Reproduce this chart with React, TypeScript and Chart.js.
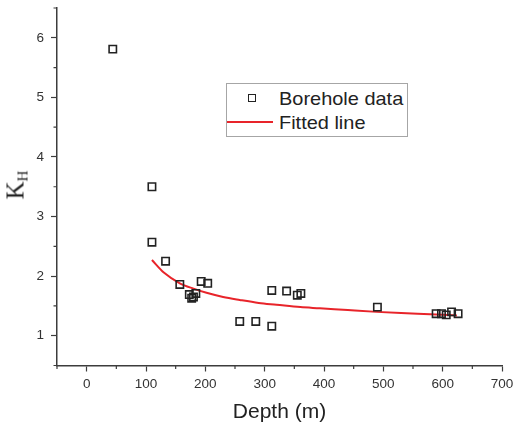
import React, { useEffect, useRef } from "react";
import { Chart, registerables } from "chart.js";

Chart.register(...registerables);

const depthM = [44, 110, 110, 133, 157, 173, 177, 180, 184, 193, 204, 258, 285, 312, 312, 337, 355, 361, 490, 589, 598, 606, 615, 626];
const kH = [5.81, 3.5, 2.57, 2.25, 1.86, 1.69, 1.63, 1.65, 1.71, 1.91, 1.88, 1.24, 1.24, 1.16, 1.76, 1.75, 1.68, 1.71, 1.48, 1.37, 1.37, 1.35, 1.4, 1.37];

// Fitted curve
const fitDepth = [110, 130, 157, 180, 202, 230, 258, 290, 320, 360, 393, 440, 489, 530, 579, 624];
const fitK = [2.27, 2.06, 1.88, 1.79, 1.72, 1.65, 1.6, 1.55, 1.52, 1.48, 1.46, 1.43, 1.4, 1.38, 1.36, 1.34];

const xTicks = [0, 100, 200, 300, 400, 500, 600, 700];
const xMinor = [-50, 50, 150, 250, 350, 450, 550, 650];
const yTicks = [1, 2, 3, 4, 5, 6];
const yMinor = [0.5, 1.5, 2.5, 3.5, 4.5, 5.5, 6.5];

const seriesLabels = ["Borehole data", "Fitted line"];
const xTitle = "Depth (m)";

const AXIS = "#3c3c3c";
const TEXT = "#333333";
const RED = "#e8242a";
const SANS = '"Liberation Sans", Arial, sans-serif';

const minorTicks = {
  id: "minorTicks",
  afterDraw(chart: any) {
    const ctx = chart.ctx;
    const xs = chart.scales.x;
    const ys = chart.scales.y;
    ctx.save();
    ctx.strokeStyle = AXIS;
    ctx.lineWidth = 1.2;
    ctx.beginPath();
    xMinor.forEach((v) => {
      const px = xs.getPixelForValue(v);
      ctx.moveTo(px, xs.top);
      ctx.lineTo(px, xs.top + 3.5);
    });
    yMinor.forEach((v) => {
      const py = ys.getPixelForValue(v);
      ctx.moveTo(ys.right, py);
      ctx.lineTo(ys.right - 3.5, py);
    });
    ctx.stroke();
    ctx.restore();
  },
};

export default function App() {
  const ref = useRef<HTMLCanvasElement | null>(null);

  useEffect(() => {
    document.body.style.margin = "0";
    const canvas = ref.current;
    if (!canvas) return;
    const chart = new Chart(canvas, {
      type: "scatter",
      data: {
        datasets: [
          {
            label: seriesLabels[0],
            data: depthM.map((x, i) => ({ x, y: kH[i] })),
            pointStyle: "rect",
            pointRadius: 5.2,
            pointBorderWidth: 1.6,
            pointBorderColor: "#222222",
            pointBackgroundColor: "rgba(0,0,0,0)",
            showLine: false,
          },
          {
            label: seriesLabels[1],
            data: fitDepth.map((x, i) => ({ x, y: fitK[i] })),
            showLine: true,
            borderColor: RED,
            borderWidth: 2,
            pointRadius: 0,
            cubicInterpolationMode: "monotone",
          },
        ],
      },
      options: {
        animation: false,
        responsive: false,
        maintainAspectRatio: false,
        layout: { padding: { top: 8, right: 14, left: 0, bottom: 0 } },
        plugins: { legend: { display: false }, tooltip: { enabled: false } },
        scales: {
          x: {
            type: "linear",
            min: -50,
            max: 700,
            afterBuildTicks: (s: any) => {
              s.ticks = xTicks.map((v) => ({ value: v }));
            },
            afterFit: (s: any) => {
              s.height = 64.5;
              s.paddingLeft = 0;
              s.paddingRight = 0;
            },
            grid: {
              drawOnChartArea: false,
              drawTicks: true,
              tickLength: 6,
              tickColor: AXIS,
              tickWidth: 1.2,
              color: AXIS,
            },
            border: { display: true, color: AXIS, width: 1.5 },
            ticks: {
              padding: 5,
              color: TEXT,
              font: { family: SANS, size: 13.5 },
              maxRotation: 0,
            },
            title: {
              display: true,
              text: xTitle,
              color: "#222222",
              font: { family: SANS, size: 21 },
              padding: { top: 0, bottom: 5 },
            },
          },
          y: {
            type: "linear",
            min: 0.5,
            max: 6.5,
            afterBuildTicks: (s: any) => {
              s.ticks = yTicks.map((v) => ({ value: v }));
            },
            afterFit: (s: any) => {
              s.width = 57;
              s.paddingTop = 0;
              s.paddingBottom = 0;
            },
            grid: {
              drawOnChartArea: false,
              drawTicks: true,
              tickLength: 6,
              tickColor: AXIS,
              tickWidth: 1.2,
              color: AXIS,
            },
            border: { display: true, color: AXIS, width: 1.5 },
            ticks: {
              padding: 7,
              color: TEXT,
              font: { family: SANS, size: 13.5 },
            },
          },
        },
      },
      plugins: [minorTicks],
    } as any);
    return () => chart.destroy();
  }, []);

  const legendText = {
    position: "absolute" as const,
    left: 279,
    fontFamily: SANS,
    fontSize: 19,
    lineHeight: "20px",
    color: "#222",
    whiteSpace: "nowrap" as const,
    transform: "scaleX(1.05)",
    transformOrigin: "left center",
  };

  return (
    <div style={{ position: "relative", width: 516, height: 430, background: "#fff" }}>
      <canvas ref={ref} width={516} height={430} style={{ display: "block" }} />
      <div
        style={{
          position: "absolute",
          left: 19,
          top: 185,
          transform: "translate(-50%, -50%) rotate(-90deg)",
          fontFamily: '"Liberation Serif", "Times New Roman", serif',
          fontSize: 25,
          color: "#222",
          whiteSpace: "nowrap",
          lineHeight: "25px",
        }}
      >
        K<sub style={{ fontSize: 15, verticalAlign: "-4px" }}>H</sub>
      </div>
      <div
        style={{
          position: "absolute",
          left: 226,
          top: 83,
          width: 182,
          height: 54,
          boxSizing: "border-box",
          border: "1px solid #a6a6a6",
          background: "#fff",
        }}
      />
      <div
        style={{
          position: "absolute",
          left: 248,
          top: 94,
          width: 8,
          height: 8,
          boxSizing: "border-box",
          border: "1.5px solid #222",
        }}
      />
      <div
        style={{
          position: "absolute",
          left: 227,
          top: 121,
          width: 46,
          height: 2,
          background: RED,
        }}
      />
      <div style={{ ...legendText, top: 88.5 }}>{seriesLabels[0]}</div>
      <div style={{ ...legendText, top: 112.5 }}>{seriesLabels[1]}</div>
    </div>
  );
}
